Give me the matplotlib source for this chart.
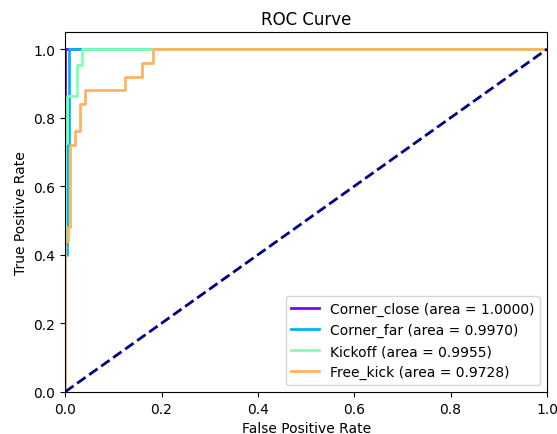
import numpy as np
import matplotlib
matplotlib.use("Agg")
import matplotlib.pyplot as plt

class_names = ["Corner_close", "Corner_far", "Kickoff", "Free_kick"]
areas = [1.0000, 0.9970, 0.9955, 0.9728]

fpr_corner_close = [0.0, 0.0, 1.0]
tpr_corner_close = [0.0, 1.0, 1.0]

fpr_corner_far = [0.0, 0.0, 0.003, 0.003, 0.007, 0.007, 1.0]
tpr_corner_far = [0.0, 0.40, 0.40, 0.72, 0.72, 1.0, 1.0]

fpr_kickoff = [0.0, 0.0, 0.004, 0.004, 0.024, 0.024, 0.034, 0.034, 1.0]
tpr_kickoff = [0.0, 0.727, 0.727, 0.864, 0.864, 0.955, 0.955, 1.0, 1.0]

fpr_free_kick = [0.0, 0.0, 0.005, 0.005, 0.01, 0.01, 0.02, 0.02, 0.03, 0.03,
                 0.041, 0.041, 0.124, 0.124, 0.16, 0.16, 0.182, 0.182, 1.0]
tpr_free_kick = [0.0, 0.44, 0.44, 0.48, 0.48, 0.72, 0.72, 0.76, 0.76, 0.84,
                 0.84, 0.88, 0.88, 0.92, 0.92, 0.96, 0.96, 1.0, 1.0]

fprs = [fpr_corner_close, fpr_corner_far, fpr_kickoff, fpr_free_kick]
tprs = [tpr_corner_close, tpr_corner_far, tpr_kickoff, tpr_free_kick]

colors = plt.cm.rainbow([0.0, 0.25, 0.5, 0.75])

fig = plt.figure(figsize=(5.57, 4.35), dpi=100)
ax = fig.add_axes([0.117, 0.097, 0.865, 0.827])
for name, a, f, t, c in zip(class_names, areas, fprs, tprs, colors):
    ax.plot(f, t, color=c, lw=2, label=f"{name} (area = {a:.4f})")
ax.plot([0, 1], [0, 1], color="navy", lw=2, linestyle="--")
ax.set_xlim(0.0, 1.0)
ax.set_ylim(0.0, 1.05)
ax.set_xlabel("False Positive Rate")
ax.set_ylabel("True Positive Rate")
ax.set_title("ROC Curve")
ax.legend(loc="lower right")
fig.savefig("out.png", dpi=100)
